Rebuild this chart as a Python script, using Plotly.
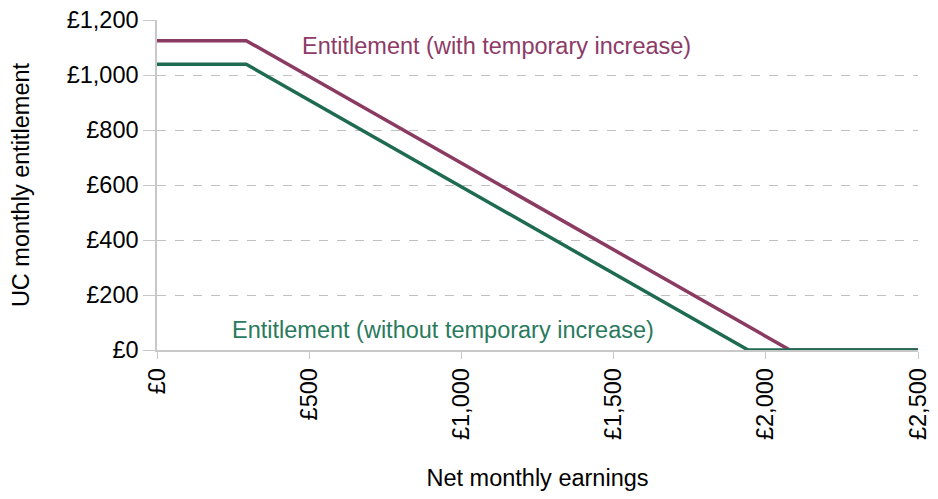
import plotly.graph_objects as go

# Net monthly earnings (£) at the kinks of each schedule
earnings_with = [0, 293, 2079, 2500]
entitlement_with = [1125, 1125, 0, 0]

earnings_without = [0, 293, 1942, 2500]
entitlement_without = [1039, 1039, 0, 0]

x_ticks = [0, 500, 1000, 1500, 2000, 2500]
x_labels = ["£0", "£500", "£1,000", "£1,500", "£2,000", "£2,500"]
y_ticks = [0, 200, 400, 600, 800, 1000, 1200]
y_labels = ["£0", "£200", "£400", "£600", "£800", "£1,000", "£1,200"]

purple = "#8B3A62"
green = "#1F6B52"

fig = go.Figure()
fig.add_trace(go.Scatter(x=earnings_with, y=entitlement_with, mode="lines",
                         line=dict(color=purple, width=3.5), showlegend=False))
fig.add_trace(go.Scatter(x=earnings_without, y=entitlement_without, mode="lines",
                         line=dict(color=green, width=3.5), showlegend=False))

fig.add_annotation(x=1116, y=1105, text="Entitlement (with temporary increase)",
                   showarrow=False, font=dict(color="#8E3A67", size=23.5))
fig.add_annotation(x=940, y=73, text="Entitlement (without temporary increase)",
                   showarrow=False, font=dict(color="#2A7A5E", size=23.5))

fig.update_layout(
    width=922, height=483,
    margin=dict(l=149, r=12, t=12, b=141),
    plot_bgcolor="white", paper_bgcolor="white",
    font=dict(family="Liberation Sans, Arial, sans-serif", size=23.5, color="black"),
    xaxis=dict(range=[0, 2500], tickvals=x_ticks, ticktext=x_labels,
               tickangle=-90, showgrid=False, showline=True, linecolor="#C8C8C8",
               linewidth=1.5, ticks="outside", tickcolor="#C8C8C8", ticklen=7,
               ticklabeloverflow="allow",
               title=dict(text="Net monthly earnings", font=dict(size=23.5), standoff=32),
               zeroline=False, automargin=False),
    yaxis=dict(range=[0, 1200], tickvals=y_ticks, ticktext=y_labels,
               showgrid=True, gridcolor="#C0C0C0", griddash="dash", gridwidth=1,
               showline=True, linecolor="#C8C8C8", linewidth=1.5,
               ticks="outside", tickcolor="#C8C8C8", ticklen=12,
               ticklabeloverflow="allow",
               title=dict(text="UC monthly entitlement", font=dict(size=23.5), standoff=34),
               zeroline=False, automargin=False),
)

fig.write_html("out.html")
